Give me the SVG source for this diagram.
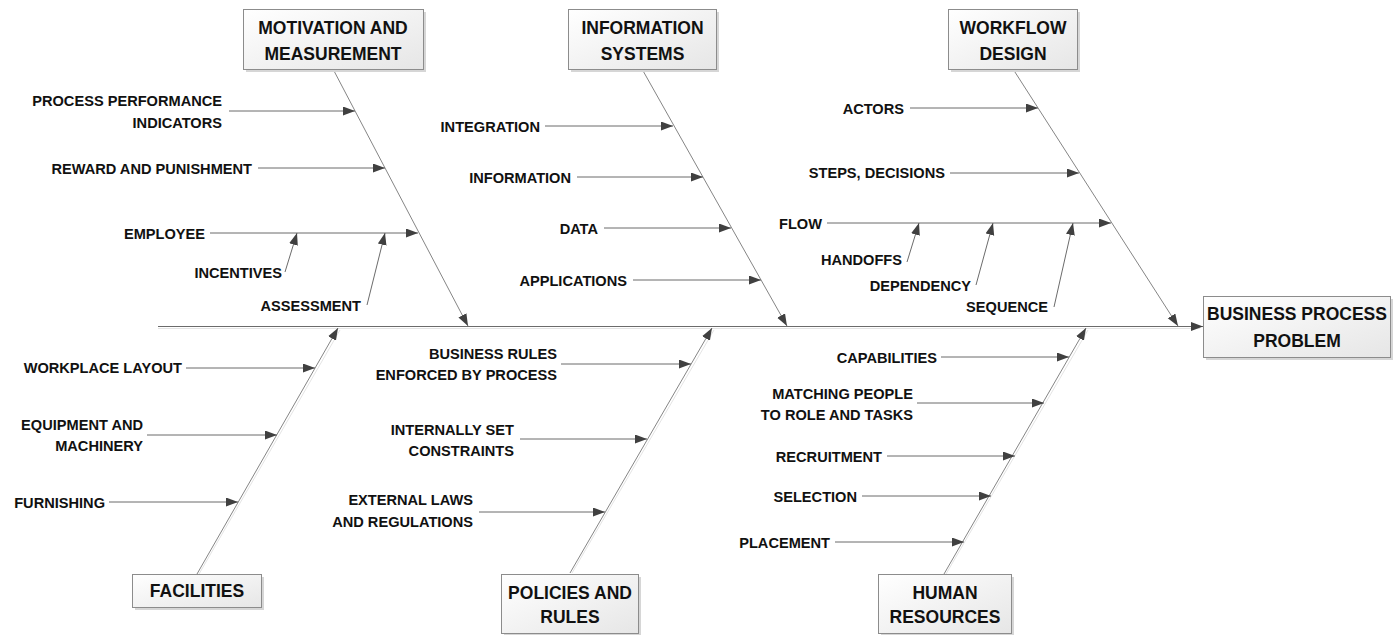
<svg xmlns="http://www.w3.org/2000/svg" width="1396" height="635" viewBox="0 0 1396 635">
<style>
.lbl{font-family:"Liberation Sans",Arial,sans-serif;font-weight:bold;font-size:14.6px;fill:#111;}
.box{font-family:"Liberation Sans",Arial,sans-serif;font-weight:bold;font-size:17.5px;fill:#111;text-anchor:middle;}
.end{text-anchor:end;}
.bx{fill:url(#g);stroke:#8c8c8c;stroke-width:1;}
.sh{fill:#d6d6d6;}
.arr{stroke:#6b6b6b;stroke-width:1;fill:none;marker-end:url(#ah);}
.bone{stroke:#858585;stroke-width:1;fill:none;marker-end:url(#ah);}
.bsh{stroke:#e4e4e4;stroke-width:1;fill:none;}
</style>
<defs>
<linearGradient id="g" x1="0" y1="0" x2="1" y2="1">
<stop offset="0" stop-color="#ffffff"/>
<stop offset="1" stop-color="#e6e6e6"/>
</linearGradient>
<marker id="ah" markerUnits="userSpaceOnUse" markerWidth="13" markerHeight="10" refX="12" refY="4.5" orient="auto">
<path d="M0,0 L12,4.5 L0,9 Z" fill="#404040"/>
</marker>
</defs>
<rect width="1396" height="635" fill="#ffffff"/>

<g id="connectors">
<line class="bsh" x1="158" y1="328.5" x2="1200" y2="328.5"/>
<line class="arr" x1="158" y1="326.5" x2="1203" y2="326.5"/>
<!-- top bones -->
<line class="bone" x1="333" y1="69" x2="468" y2="326"/>
<line class="bone" x1="642" y1="69" x2="787" y2="326"/>
<line class="bone" x1="1013" y1="69" x2="1178" y2="326"/>
<!-- bottom bones -->
<line class="bsh" x1="199" y1="574" x2="340" y2="330"/>
<line class="bsh" x1="572" y1="573" x2="714" y2="330"/>
<line class="bsh" x1="946" y1="574" x2="1088" y2="330"/>
<line class="bone" x1="197" y1="574" x2="338" y2="328"/>
<line class="bone" x1="570" y1="573" x2="712" y2="328"/>
<line class="bone" x1="944" y1="574" x2="1086" y2="328"/>
<!-- motivation -->
<line class="arr" x1="229" y1="111" x2="355" y2="111"/>
<line class="arr" x1="258" y1="168" x2="385" y2="168"/>
<line class="arr" x1="210" y1="233" x2="418" y2="233"/>
<line class="arr" x1="285" y1="272" x2="297" y2="233"/>
<line class="arr" x1="367" y1="305" x2="385" y2="233"/>
<!-- information systems -->
<line class="arr" x1="545" y1="126" x2="673" y2="126"/>
<line class="arr" x1="577" y1="177" x2="703" y2="177"/>
<line class="arr" x1="604" y1="228" x2="731" y2="228"/>
<line class="arr" x1="633" y1="280" x2="761" y2="280"/>
<!-- workflow -->
<line class="arr" x1="910" y1="108" x2="1038" y2="108"/>
<line class="arr" x1="950" y1="173" x2="1079" y2="173"/>
<line class="arr" x1="827" y1="223" x2="1111" y2="223"/>
<line class="arr" x1="907" y1="262" x2="919" y2="223"/>
<line class="arr" x1="976" y1="285" x2="993" y2="223"/>
<line class="arr" x1="1054" y1="307" x2="1073" y2="223"/>
<!-- facilities -->
<line class="arr" x1="186" y1="368" x2="315" y2="368"/>
<line class="arr" x1="147" y1="435" x2="277" y2="435"/>
<line class="arr" x1="109" y1="502" x2="238" y2="502"/>
<!-- policies -->
<line class="arr" x1="561" y1="364" x2="691" y2="364"/>
<line class="arr" x1="520" y1="439" x2="647" y2="439"/>
<line class="arr" x1="479" y1="512" x2="605" y2="512"/>
<!-- human resources -->
<line class="arr" x1="941" y1="357" x2="1069" y2="357"/>
<line class="arr" x1="917" y1="403" x2="1044" y2="403"/>
<line class="arr" x1="887" y1="456" x2="1015" y2="456"/>
<line class="arr" x1="862" y1="496" x2="991" y2="496"/>
<line class="arr" x1="835" y1="542" x2="964" y2="542"/>
</g>

<g id="node-motivation">
<rect class="sh" x="246" y="12" width="180" height="60"/>
<rect class="bx" x="243.5" y="9.5" width="180" height="60"/>
<text class="box" x="333" y="33.5">MOTIVATION AND</text>
<text class="box" x="333" y="59.5">MEASUREMENT</text>
</g>
<g id="node-information">
<rect class="sh" x="571" y="12" width="148" height="60"/>
<rect class="bx" x="568.5" y="9.5" width="148" height="60"/>
<text class="box" x="642.5" y="33.5">INFORMATION</text>
<text class="box" x="642.5" y="59.5">SYSTEMS</text>
</g>
<g id="node-workflow">
<rect class="sh" x="951" y="12" width="129" height="60"/>
<rect class="bx" x="948.5" y="9.5" width="129" height="60"/>
<text class="box" x="1013" y="33.5">WORKFLOW</text>
<text class="box" x="1013" y="59.5">DESIGN</text>
</g>
<g id="node-problem">
<rect class="sh" x="1206" y="299" width="187" height="61"/>
<rect class="bx" x="1203.5" y="296.5" width="187" height="61"/>
<text class="box" x="1297" y="319.5">BUSINESS PROCESS</text>
<text class="box" x="1297" y="346.5">PROBLEM</text>
</g>
<g id="node-facilities">
<rect class="sh" x="135" y="577" width="129" height="33"/>
<rect class="bx" x="132.5" y="574.5" width="129" height="33"/>
<text class="box" x="197" y="596.5">FACILITIES</text>
</g>
<g id="node-policies">
<rect class="sh" x="504" y="577" width="137" height="59"/>
<rect class="bx" x="501.5" y="574.5" width="137" height="59"/>
<text class="box" x="570" y="598.5">POLICIES AND</text>
<text class="box" x="570" y="622.5">RULES</text>
</g>
<g id="node-hr">
<rect class="sh" x="881" y="577" width="133" height="59"/>
<rect class="bx" x="878.5" y="574.5" width="133" height="59"/>
<text class="box" x="945" y="598.5">HUMAN</text>
<text class="box" x="945" y="622.5">RESOURCES</text>
</g>

<g id="labels-motivation">
<text class="lbl end" x="222" y="105.5">PROCESS PERFORMANCE</text>
<text class="lbl end" x="222" y="127.5">INDICATORS</text>
<text class="lbl end" x="252" y="173.5">REWARD AND PUNISHMENT</text>
<text class="lbl end" x="205" y="238.5">EMPLOYEE</text>
<text class="lbl end" x="282" y="278">INCENTIVES</text>
<text class="lbl end" x="361" y="311">ASSESSMENT</text>
</g>
<g id="labels-information">
<text class="lbl end" x="540" y="131.5">INTEGRATION</text>
<text class="lbl end" x="571" y="182.5">INFORMATION</text>
<text class="lbl end" x="598" y="233.5">DATA</text>
<text class="lbl end" x="627" y="285.5">APPLICATIONS</text>
</g>
<g id="labels-workflow">
<text class="lbl end" x="904" y="113.5">ACTORS</text>
<text class="lbl end" x="945" y="178">STEPS, DECISIONS</text>
<text class="lbl end" x="822" y="228.5">FLOW</text>
<text class="lbl end" x="902" y="265">HANDOFFS</text>
<text class="lbl end" x="971" y="291">DEPENDENCY</text>
<text class="lbl end" x="1048" y="311.5">SEQUENCE</text>
</g>
<g id="labels-facilities">
<text class="lbl end" x="182" y="373">WORKPLACE LAYOUT</text>
<text class="lbl end" x="143" y="430">EQUIPMENT AND</text>
<text class="lbl end" x="143" y="450.5">MACHINERY</text>
<text class="lbl end" x="105" y="507.5">FURNISHING</text>
</g>
<g id="labels-policies">
<text class="lbl end" x="557" y="358.5">BUSINESS RULES</text>
<text class="lbl end" x="557" y="379.5">ENFORCED BY PROCESS</text>
<text class="lbl end" x="514" y="434.5">INTERNALLY SET</text>
<text class="lbl end" x="514" y="455.5">CONSTRAINTS</text>
<text class="lbl end" x="473" y="504.5">EXTERNAL LAWS</text>
<text class="lbl end" x="473" y="526.5">AND REGULATIONS</text>
</g>
<g id="labels-hr">
<text class="lbl end" x="937" y="362.5">CAPABILITIES</text>
<text class="lbl end" x="913" y="398.5">MATCHING PEOPLE</text>
<text class="lbl end" x="913" y="420">TO ROLE AND TASKS</text>
<text class="lbl end" x="882" y="461.5">RECRUITMENT</text>
<text class="lbl end" x="857" y="501.5">SELECTION</text>
<text class="lbl end" x="830" y="547.5">PLACEMENT</text>
</g>
</svg>
